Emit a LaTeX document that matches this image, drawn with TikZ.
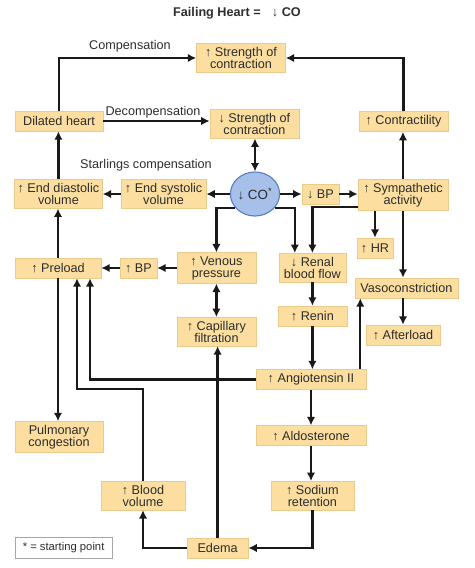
\documentclass[tikz,border=0pt]{standalone}
\usepackage{fontspec}
\setmainfont{Liberation Sans}
\usetikzlibrary{arrows.meta,shapes.geometric}
\definecolor{boxfill}{RGB}{251,222,160}
\definecolor{boxline}{RGB}{236,202,140}
\definecolor{cofill}{RGB}{166,192,234}
\definecolor{coline}{RGB}{92,126,196}
\definecolor{txtgray}{RGB}{45,45,45}
\definecolor{linegray}{RGB}{25,25,25}
\begin{document}
\begin{tikzpicture}[box node/.style={draw=boxline, fill=boxfill, font=\fontsize{9}{8.5}\selectfont, text=txtgray, align=center, minimum height=0.5cm, inner xsep=2pt, inner ysep=2.6pt},co node/.style={ellipse, draw=coline, line width=0.8pt, fill=cofill, font=\fontsize{9.5}{9}\selectfont, text=txtgray, minimum width=1.15cm, minimum height=1.1cm, inner sep=0pt},label node/.style={font=\fontsize{9}{10}\selectfont, text=txtgray, inner sep=1pt},key node/.style={draw=gray!70, line width=0.8pt, fill=white, font=\fontsize{8}{9}\selectfont, text=txtgray, minimum width=2.425cm, minimum height=0.525cm, inner sep=2pt},flow/.style={line width=1.6pt, draw=linegray, -{Latex[length=6pt,width=6pt]}},both/.style={flow, {Latex[length=6pt,width=6pt]}-{Latex[length=6pt,width=6pt]}}]%
\node[font=\fontsize{9}{10}\selectfont\bfseries, text=txtgray] (title) at (5.925,-0.325) {Failing Heart =\hspace{8pt}↓ CO};%
  % Top row%
\node[box node, minimum width=2.225cm] (strup) at (6.025,-1.45) {↑ Strength of\\contraction};%
\node[box node, minimum width=2.2cm] (dilated) at (1.475,-3.025) {Dilated heart};%
\node[box node, minimum width=2.225cm] (strdown) at (6.36,-3.1) {↓ Strength of\\contraction};%
\node[box node, minimum width=2.225cm] (contract) at (10.09,-3.04) {↑ Contractility};%
\node[label node] (compens) at (3.25,-1.15) {Compensation};%
\node[label node] (decompens) at (3.825,-2.8) {Decompensation};%
\node[label node] (starling) at (3.65,-4.125) {Starlings compensation};%
  % CO row%
\node[box node, minimum width=2.2cm] (edv) at (1.46,-4.85) {↑ End diastolic\\volume};%
\node[box node, minimum width=2.125cm] (esv) at (4.09,-4.85) {↑ End systolic\\volume};%
\node[co node] (co) at (6.375,-4.85) {↓ CO\textsuperscript{*}};%
\node[box node, minimum width=0.925cm] (bpdown) at (8.01,-4.85) {↓ BP};%
\node[box node, minimum width=2.25cm] (symp) at (10.075,-4.875) {↑ Sympathetic\\activity};%
\node[box node, minimum width=0.9cm] (hr) at (9.375,-6.2) {↑ HR};%
  % Preload row%
\node[box node, minimum width=2.15cm] (preload) at (1.45,-6.7) {↑ Preload};%
\node[box node, minimum width=0.925cm] (bpup) at (3.46,-6.7) {↑ BP};%
\node[box node, minimum width=1.975cm] (venous) at (5.41,-6.7) {↑ Venous\\pressure};%
\node[box node, minimum width=1.675cm] (renal) at (7.81,-6.69) {↓ Renal\\blood flow};%
\node[box node, minimum width=2.575cm] (vaso) at (10.16,-7.2) {Vasoconstriction};%
\node[box node, minimum width=1.725cm] (renin) at (7.81,-7.9) {↑ Renin};%
\node[box node, minimum width=1.975cm] (capillary) at (5.41,-8.29) {↑ Capillary\\filtration};%
\node[box node, minimum width=1.85cm] (afterload) at (10.075,-8.375) {↑ Afterload};%
  % Lower part%
\node[box node, minimum width=2.75cm] (angio) at (7.775,-9.49) {↑ Angiotensin II};%
\node[box node, minimum width=2.2cm] (pulmonary) at (1.475,-10.925) {Pulmonary\\congestion};%
\node[box node, minimum width=2.75cm] (aldo) at (7.775,-10.89) {↑ Aldosterone};%
\node[box node, minimum width=2.1cm] (blood) at (3.575,-12.39) {↑ Blood\\volume};%
\node[box node, minimum width=2.075cm] (sodium) at (7.81,-12.39) {↑ Sodium\\retention};%
\node[box node, minimum width=1.525cm] (edema) at (5.44,-13.7) {Edema};%
\node[key node] (key) at (1.59,-13.69) {* = starting point};%
\coordinate (bvturn) at (1.925,-9.725);%
  % Connectors%
\draw[flow] (dilated.north) |- (strup.west);%
\draw[flow] (dilated.east) -- (dilated.east -| strdown.west);%
\draw[both] (co.north) -- (co.north |- strdown.south);%
\draw[flow] (contract.north) |- (strup.east);%
\draw[flow] (symp.north) -- (symp.north |- contract.south);%
\draw[flow] (edv.north) -- (edv.north |- dilated.south);%
\draw[flow] (co.west) -- (esv.east);%
\draw[flow] (esv.west) -- (edv.east);%
\draw[flow] (co.east) -- (bpdown.west);%
\draw[flow] (bpdown.east) -- (bpdown.east -| symp.west);%
\draw[flow] (co.-145) -| (venous.north);%
\draw[flow] (co.-35) -| ([xshift=-0.44cm]renal.north);%
\draw[flow] ([yshift=0.1cm]symp.south west) -| (renal.north);%
\draw[flow] (symp.south -| hr.north) -- (hr.north);%
\draw[flow] (symp.south) -- (symp.south |- vaso.north);%
\draw[flow] (venous.west) -- (bpup.east);%
\draw[flow] (bpup.west) -- (preload.east);%
\draw[both] (venous.south) -- (capillary.north);%
\draw[flow] (renal.south) -- (renin.north);%
\draw[flow] (renin.south) -- (renin.south |- angio.north);%
\draw[flow] (afterload.north |- vaso.south) -- (afterload.north);%
\draw[flow] ([xshift=-0.15cm]angio.north east) -- ([xshift=-0.15cm]angio.north east |- vaso.south);%
\draw[flow] (angio.west) -| ([xshift=0.8cm]preload.south);%
\draw[flow] (blood.north) |- (bvturn) -- (bvturn |- preload.south);%
\draw[flow] (preload.north) -- (preload.north |- edv.south);%
\draw[flow] (preload.south) -- (preload.south |- pulmonary.north);%
\draw[flow] (edema.north) -- (edema.north |- capillary.south);%
\draw[flow] (edema.west) -| (blood.south);%
\draw[flow] (sodium.south) |- (edema.east);%
\draw[flow] (angio.south) -- (angio.south |- aldo.north);%
\draw[flow] (aldo.south) -- (aldo.south |- sodium.north);%
\path[use as bounding box] (0,0) rectangle (11.85,-14.2);%
\end{tikzpicture}
\end{document}
